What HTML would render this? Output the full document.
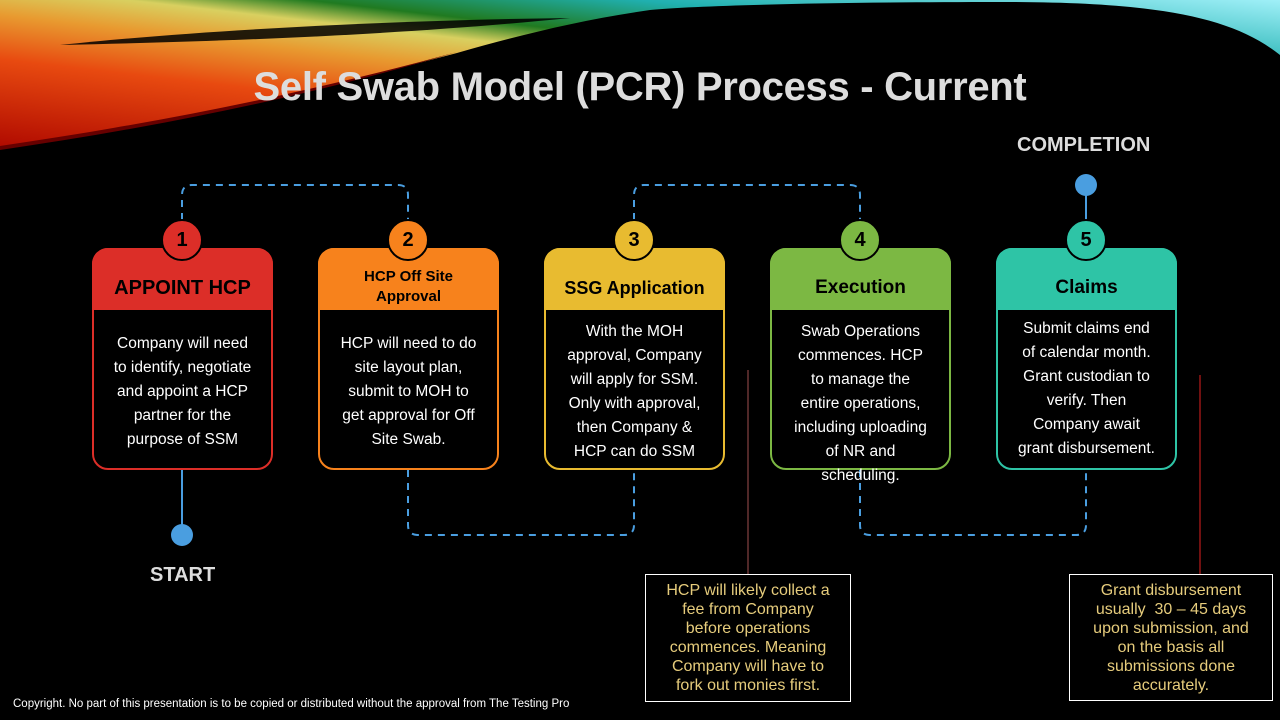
<!DOCTYPE html>
<html><head><meta charset="utf-8"><style>
body{margin:0;width:1280px;height:720px;background:#000;overflow:hidden;position:relative;font-family:"Liberation Sans",sans-serif}
.box{position:absolute;top:248px;width:177px;height:218px;border:2px solid;border-radius:16px;background:#000;overflow:visible}
.hd{position:absolute;left:-2px;top:-2px;width:181px;height:62px;border-radius:16px 16px 0 0;display:flex;align-items:center;justify-content:center;text-align:center;font-weight:bold;color:#000;font-size:19px;line-height:20px}
.tx{position:absolute;left:0;width:177px;text-align:center;color:#fff;font-size:15.5px;line-height:24px}
.num{position:absolute;width:38px;height:38px;border-radius:50%;border:2px solid #000;top:219px;text-align:center;line-height:38px;font-weight:bold;font-size:20px;color:#000}
.call{position:absolute;border:1.5px solid #fff;color:#e6cc7c;text-align:center;font-size:16px;line-height:19px;box-sizing:border-box}
.lbl{position:absolute;color:#ddd;font-weight:bold;font-size:20px}
</style></head><body>
<svg width="1280" height="720" style="position:absolute;left:0;top:0">
<defs>
<linearGradient id="g1" x1="0" y1="1" x2="1" y2="0">
<stop offset="0" stop-color="#b00a00"/><stop offset="0.3" stop-color="#e84a10"/><stop offset="0.45" stop-color="#e89a30"/><stop offset="0.55" stop-color="#d8d060"/><stop offset="0.62" stop-color="#207a20"/><stop offset="0.75" stop-color="#20b0b0"/><stop offset="1" stop-color="#a0f0f8"/></linearGradient>
</defs>
<path d="M0 0 L1280 0 L1280 55 C1230 15 1150 2 1000 2 C850 2 700 5 650 10 C580 20 520 35 457 53 C300 95 150 125 0 148 Z" fill="url(#g1)"/>
<path d="M60 45 C200 30 400 20 570 18 C450 30 300 40 60 45 Z" fill="#000" opacity="0.85"/>
<path d="M0 146 C150 124 300 95 457 52 C300 99 150 128 0 150 Z" fill="#600"/>
<g stroke="#4a9ee0" stroke-width="2" fill="none" stroke-dasharray="7,6">
<path d="M182 220 V195 Q182 185 192 185 H398 Q408 185 408 195 V220"/>
<path d="M408 470 V525 Q408 535 418 535 H624 Q634 535 634 525 V470"/>
<path d="M634 220 V195 Q634 185 644 185 H850 Q860 185 860 195 V220"/>
<path d="M860 470 V525 Q860 535 870 535 H1076 Q1086 535 1086 525 V470"/>
</g>
<g stroke="#4a9ee0" stroke-width="2"><line x1="182" y1="470" x2="182" y2="535"/><line x1="1086" y1="185" x2="1086" y2="222"/></g>
<circle cx="182" cy="535" r="11" fill="#4a9ee0"/><circle cx="1086" cy="185" r="11" fill="#4a9ee0"/>
<line x1="748" y1="370" x2="748" y2="575" stroke="#a05050" stroke-width="1"/>
<line x1="1200" y1="375" x2="1200" y2="575" stroke="#e02020" stroke-width="1"/>
</svg>
<div style="position:absolute;left:0;width:1280px;top:65px;text-align:center;color:#ddd;font-weight:bold;font-size:40px;letter-spacing:-0.3px">Self Swab Model (PCR) Process - Current</div>
<div class="lbl" style="left:1017px;top:134px">COMPLETION</div>
<div class="lbl" style="left:150px;top:564px">START</div>

<div class="box" style="left:92px;border-color:#dc2e28"><div class="hd" style="background:#dc2e28;font-size:20px;padding-top:18px;height:44px">APPOINT HCP</div><div class="tx" style="top:82px">Company will need<br>to identify, negotiate<br>and appoint a HCP<br>partner for the<br>purpose of SSM</div></div>
<div class="box" style="left:318px;border-color:#f7821c"><div class="hd" style="background:#f7821c;font-size:15px;padding-top:16px;height:46px">HCP Off Site<br>Approval</div><div class="tx" style="top:82px">HCP will need to do<br>site layout plan,<br>submit to MOH to<br>get approval for Off<br>Site Swab.</div></div>
<div class="box" style="left:544px;border-color:#e8bb30"><div class="hd" style="background:#e8bb30;font-size:18px;padding-top:18px;height:44px">SSG Application</div><div class="tx" style="top:70px">With the MOH<br>approval, Company<br>will apply for SSM.<br>Only with approval,<br>then Company &amp;<br>HCP can do SSM</div></div>
<div class="box" style="left:770px;border-color:#7cb843"><div class="hd" style="background:#7cb843;font-size:19px;padding-top:18px;height:44px">Execution</div><div class="tx" style="top:70px">Swab Operations<br>commences. HCP<br>to manage the<br>entire operations,<br>including uploading<br>of NR and<br>scheduling.</div></div>
<div class="box" style="left:996px;border-color:#2ec4a6"><div class="hd" style="background:#2ec4a6;font-size:19px;padding-top:18px;height:44px">Claims</div><div class="tx" style="top:67px">Submit claims end<br>of calendar month.<br>Grant custodian to<br>verify. Then<br>Company await<br>grant disbursement.</div></div>

<div class="num" style="left:161px;background:#dc2e28">1</div>
<div class="num" style="left:387px;background:#f7821c">2</div>
<div class="num" style="left:613px;background:#e8bb30">3</div>
<div class="num" style="left:839px;background:#7cb843">4</div>
<div class="num" style="left:1065px;background:#2ec4a6">5</div>

<div class="call" style="left:645px;top:574px;width:206px;height:128px;padding-top:6px">HCP will likely collect a<br>fee from Company<br>before operations<br>commences. Meaning<br>Company will have to<br>fork out monies first.</div>
<div class="call" style="left:1069px;top:574px;width:204px;height:127px;padding-top:6px">Grant disbursement<br>usually &nbsp;30 – 45 days<br>upon submission, and<br>on the basis all<br>submissions done<br>accurately.</div>
<div style="position:absolute;left:13px;top:698px;color:#fff;font-size:11.5px">Copyright. No part of this presentation is to be copied or distributed without the approval from The Testing Pro</div>
</body></html>
